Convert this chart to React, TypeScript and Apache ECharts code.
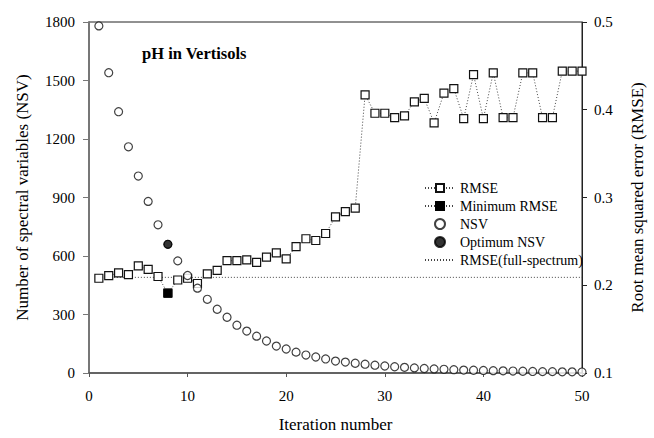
import React, { useEffect, useRef } from "react";
import * as echarts from "echarts";

const iterations = [1, 2, 3, 4, 5, 6, 7, 8, 9, 10, 11, 12, 13, 14, 15, 16, 17, 18, 19, 20, 21, 22, 23, 24, 25, 26, 27, 28, 29, 30, 31, 32, 33, 34, 35, 36, 37, 38, 39, 40, 41, 42, 43, 44, 45, 46, 47, 48, 49, 50];
const rmseValues = [0.208, 0.211, 0.214, 0.212, 0.222, 0.218, 0.210, 0.191, 0.206, 0.208, 0.202, 0.213, 0.217, 0.228, 0.228, 0.229, 0.226, 0.232, 0.237, 0.230, 0.244, 0.253, 0.251, 0.259, 0.278, 0.284, 0.288, 0.417, 0.396, 0.396, 0.391, 0.393, 0.409, 0.413, 0.385, 0.419, 0.424, 0.390, 0.440, 0.390, 0.442, 0.391, 0.391, 0.442, 0.442, 0.391, 0.391, 0.444, 0.444, 0.444];
const nsvValues = [1780, 1540, 1340, 1160, 1010, 880, 760, 660, 575, 500, 435, 378, 327, 286, 245, 215, 189, 164, 138, 123, 107, 92, 82, 72, 61, 56, 50, 45, 40, 36, 32, 29, 26, 23, 21, 19, 17, 15, 14, 13, 12, 11, 10, 9, 8, 7, 7, 6, 6, 5];
const minRmsePoint = [8, 0.191];
const optimumNsvPoint = [8, 660];
const fullSpectrumRmse = 0.209;
const fullSpectrumRange = [1, 50];
const xTicks = { min: 0, max: 50, interval: 10 };
const leftTicks = { min: 0, max: 1800, interval: 300 };
const rightTicks = { min: 0.1, max: 0.5, interval: 0.1 };

const FONT = "'Liberation Serif', 'Times New Roman', Times, serif";

export default function App() {
  const ref = useRef<HTMLDivElement>(null);
  useEffect(() => {
    if (!ref.current) return;
    const chart = echarts.init(ref.current, undefined, { renderer: "svg" });
    const dotted = { color: "#444", width: 1, type: [1, 2] as any };
    const openStyle = { color: "#fff", borderColor: "#111", borderWidth: 1.2 };
    const filledStyle = { color: "#000", borderColor: "#000", borderWidth: 1 };
    chart.setOption({
      animation: false,
      backgroundColor: "#fff",
      textStyle: { fontFamily: FONT, color: "#000" },
      title: {
        text: "pH in Vertisols",
        left: 137,
        top: 40,
        textStyle: { fontFamily: FONT, fontSize: 16.5, fontWeight: "bold", color: "#000" },
      },
      grid: {
        left: 89,
        right: 63,
        top: 22,
        bottom: 64,
        show: true,
        borderColor: "#222",
        borderWidth: 1,
        backgroundColor: "transparent",
      },
      legend: {
        orient: "vertical",
        left: 419,
        top: 174,
        itemWidth: 30,
        itemHeight: 10,
        itemGap: 0,
        textStyle: { fontFamily: FONT, fontSize: 14, color: "#000", lineHeight: 18 },
        data: [
          "RMSE",
          "Minimum RMSE",
          "NSV",
          "Optimum NSV",
          { name: "RMSE(full-spectrum)", itemStyle: { color: "rgba(0,0,0,0)", borderColor: "rgba(0,0,0,0)", borderWidth: 0 } },
        ],
      },
      xAxis: {
        type: "value",
        min: xTicks.min,
        max: xTicks.max,
        interval: xTicks.interval,
        name: "Iteration number",
        nameLocation: "middle",
        nameGap: 43,
        nameTextStyle: { fontFamily: FONT, fontSize: 17, color: "#000" },
        axisLine: { lineStyle: { color: "#555", width: 1.5 } },
        axisTick: { show: true, length: 4, lineStyle: { color: "#555" } },
        axisLabel: { fontFamily: FONT, fontSize: 15, color: "#000", margin: 15 },
        splitLine: { show: false },
      },
      yAxis: [
        {
          type: "value",
          min: leftTicks.min,
          max: leftTicks.max,
          interval: leftTicks.interval,
          name: "Number of spectral variables (NSV)",
          nameLocation: "middle",
          nameGap: 58,
          nameTextStyle: { fontFamily: FONT, fontSize: 17, color: "#000" },
          axisLine: { show: true, lineStyle: { color: "#777", width: 2 } },
          axisTick: { show: true, length: 6, lineStyle: { color: "#777" } },
          axisLabel: {
            fontFamily: FONT,
            fontSize: 15,
            color: "#000",
            margin: 14,
            formatter: (v: number) => String(v),
          },
          splitLine: { show: false },
        },
        {
          type: "value",
          position: "right",
          min: rightTicks.min,
          max: rightTicks.max,
          interval: rightTicks.interval,
          name: "Root mean squared error (RMSE)",
          nameLocation: "middle",
          nameGap: 47,
          nameTextStyle: { fontFamily: FONT, fontSize: 17, color: "#000" },
          axisLine: { show: true, lineStyle: { color: "#222", width: 1 } },
          axisTick: { show: true, length: 5, lineStyle: { color: "#222" } },
          axisLabel: {
            fontFamily: FONT,
            fontSize: 15,
            color: "#000",
            margin: 12,
            formatter: (v: number) => v.toFixed(1),
          },
          splitLine: { show: false },
        },
      ],
      series: [
        {
          name: "RMSE(full-spectrum)",
          type: "line",
          yAxisIndex: 1,
          symbol: "none",
          data: [
            [fullSpectrumRange[0], fullSpectrumRmse],
            [fullSpectrumRange[1], fullSpectrumRmse],
          ],
          lineStyle: dotted,
          itemStyle: { color: "#444" },
          z: 1,
        },
        {
          name: "RMSE",
          type: "line",
          yAxisIndex: 1,
          symbol: "rect",
          symbolSize: 8,
          showSymbol: true,
          data: iterations.map((it, i) => [it, rmseValues[i]]),
          lineStyle: dotted,
          itemStyle: openStyle,
          z: 3,
        },
        {
          name: "Minimum RMSE",
          type: "line",
          yAxisIndex: 1,
          symbol: "rect",
          symbolSize: 8,
          showSymbol: true,
          data: [minRmsePoint],
          lineStyle: dotted,
          itemStyle: filledStyle,
          z: 5,
        },
        {
          name: "NSV",
          type: "scatter",
          yAxisIndex: 0,
          symbol: "circle",
          symbolSize: 8,
          data: iterations.map((it, i) => [it, nsvValues[i]]),
          itemStyle: openStyle,
          z: 4,
        },
        {
          name: "Optimum NSV",
          type: "scatter",
          yAxisIndex: 0,
          symbol: "circle",
          symbolSize: 8,
          data: [optimumNsvPoint],
          itemStyle: filledStyle,
          z: 6,
        },
      ],
    });
    return () => chart.dispose();
  }, []);
  return (
    <div
      ref={ref}
      style={{ position: "fixed", left: 0, top: 0, width: 654, height: 438, background: "#fff" }}
    />
  );
}
